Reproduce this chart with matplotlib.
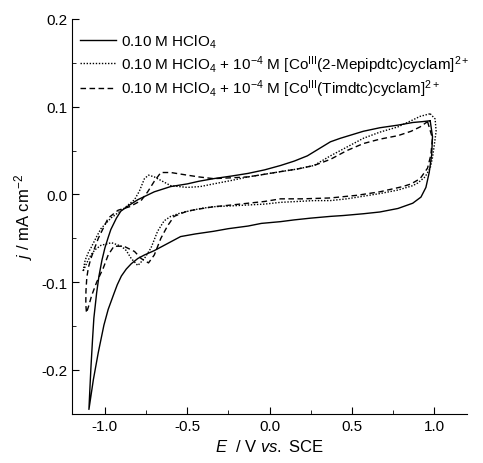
import numpy as np
import matplotlib
matplotlib.use("Agg")
import matplotlib.pyplot as plt
from matplotlib.ticker import MultipleLocator

plt.rcParams['font.family'] = ['Liberation Sans', 'DejaVu Sans']
plt.rcParams['mathtext.fontset'] = 'custom'
plt.rcParams['mathtext.rm'] = 'Liberation Sans'
plt.rcParams['mathtext.it'] = 'Liberation Sans:italic'
plt.rcParams['font.size'] = 11

# CV loops: positive vertex -> cathodic branch -> negative vertex -> anodic branch
E_blank = [0.976, 0.99, 0.985, 0.97, 0.95, 0.92, 0.87, 0.78, 0.67, 0.57, 0.45, 0.37,
           0.25, 0.15, 0.067, -0.05, -0.13, -0.25, -0.34, -0.45, -0.54, -0.62, -0.70,
           -0.76, -0.80, -0.84, -0.87, -0.90, -0.925, -0.945, -0.98, -1.006, -1.04,
           -1.07, -1.097,
           -1.092, -1.085, -1.075, -1.067, -1.05, -1.036, -1.018, -1.0, -0.98, -0.964,
           -0.93, -0.903, -0.85, -0.80, -0.70, -0.60, -0.50, -0.43, -0.34, -0.23, -0.13,
           -0.03, 0.067, 0.15, 0.23, 0.30, 0.37, 0.43, 0.50, 0.57, 0.67, 0.78, 0.87,
           0.93, 0.976]
j_blank = [0.084, 0.066, 0.045, 0.025, 0.008, -0.003, -0.010, -0.016, -0.020, -0.022,
           -0.024, -0.025, -0.027, -0.029, -0.031, -0.033, -0.036, -0.039, -0.042,
           -0.045, -0.048, -0.056, -0.064, -0.069, -0.073, -0.079, -0.085, -0.093,
           -0.103, -0.113, -0.131, -0.149, -0.180, -0.211, -0.245,
           -0.225, -0.198, -0.165, -0.141, -0.112, -0.093, -0.075, -0.061, -0.049,
           -0.040, -0.027, -0.019, -0.012, -0.006, 0.003, 0.009, 0.012, 0.015, 0.018,
           0.021, 0.024, 0.028, 0.033, 0.038, 0.044, 0.052, 0.060, 0.064, 0.068, 0.072,
           0.076, 0.079, 0.082, 0.083, 0.084]

E_mepip = [0.976, 1.006, 1.012, 1.0, 0.99, 0.976, 0.945, 0.90, 0.87, 0.78, 0.67, 0.57,
           0.47, 0.37, 0.27, 0.17, 0.067, -0.03, -0.13, -0.23, -0.34, -0.42, -0.54,
           -0.60, -0.64, -0.68, -0.72, -0.76, -0.80, -0.84, -0.87, -0.90, -0.96,
           -1.024, -1.06, -1.085, -1.11, -1.133,
           -1.12, -1.10, -1.085, -1.05, -1.024, -0.964, -0.885, -0.82, -0.79, -0.76,
           -0.735, -0.70, -0.66, -0.60, -0.50, -0.42, -0.34, -0.23, -0.13, -0.03, 0.067,
           0.17, 0.27, 0.37, 0.43, 0.50, 0.57, 0.67, 0.78, 0.86, 0.915, 0.976]
j_mepip = [0.092, 0.086, 0.072, 0.055, 0.042, 0.030, 0.020, 0.013, 0.010, 0.005, 0.001,
           -0.002, -0.005, -0.007, -0.007, -0.008, -0.009, -0.011, -0.012, -0.013,
           -0.014, -0.016, -0.021, -0.025, -0.030, -0.042, -0.061, -0.073, -0.081,
           -0.073, -0.064, -0.059, -0.055, -0.058, -0.063, -0.069, -0.078, -0.088,
           -0.075, -0.066, -0.061, -0.048, -0.039, -0.027, -0.016, -0.006, 0.004, 0.018,
           0.022, 0.020, 0.016, 0.010, 0.008, 0.009, 0.012, 0.016, 0.020, 0.023, 0.026,
           0.029, 0.033, 0.044, 0.050, 0.057, 0.064, 0.071, 0.077, 0.084, 0.089, 0.092]

E_timdtc = [0.96, 0.99, 0.98, 0.96, 0.915, 0.86, 0.81, 0.67, 0.53, 0.37, 0.2, 0.067,
            -0.03, -0.13, -0.23, -0.34, -0.44, -0.50, -0.58, -0.62, -0.66, -0.70,
            -0.735, -0.78, -0.82, -0.885, -0.945, -0.98, -1.01, -1.05, -1.08, -1.10,
            -1.112,
            -1.116, -1.115, -1.11, -1.10, -1.085, -1.06, -1.04, -0.98, -0.92, -0.85,
            -0.78, -0.74, -0.70, -0.66, -0.60, -0.50, -0.43, -0.34, -0.23, -0.13, -0.03,
            0.067, 0.17, 0.27, 0.37, 0.47, 0.57, 0.67, 0.78, 0.86, 0.915, 0.96]
j_timdtc = [0.083, 0.064, 0.045, 0.030, 0.018, 0.012, 0.009, 0.003, -0.001, -0.004,
            -0.005, -0.005, -0.008, -0.010, -0.012, -0.014, -0.017, -0.019, -0.025,
            -0.036, -0.050, -0.069, -0.078, -0.073, -0.065, -0.059, -0.059, -0.069,
            -0.084, -0.100, -0.115, -0.128, -0.135,
            -0.125, -0.110, -0.095, -0.083, -0.073, -0.060, -0.050, -0.027, -0.018,
            -0.014, -0.007, 0.003, 0.015, 0.025, 0.025, 0.022, 0.020, 0.018, 0.019,
            0.020, 0.023, 0.026, 0.029, 0.033, 0.040, 0.050, 0.058, 0.063, 0.067, 0.072,
            0.077, 0.083]

labels = [r"0.10 M HClO$_4$",
          r"0.10 M HClO$_4$ + 10$^{-4}$ M [Co$^{\rm III}$(2-Mepipdtc)cyclam]$^{2+}$",
          r"0.10 M HClO$_4$ + 10$^{-4}$ M [Co$^{\rm III}$(Timdtc)cyclam]$^{2+}$"]

fig = plt.figure(figsize=(4.83, 4.64), dpi=100)
ax = fig.add_axes([0.149, 0.106, 0.818, 0.851])

ax.plot(E_blank, j_blank, color='black', lw=1.0, label=labels[0])
ax.plot(E_mepip, j_mepip, color='black', lw=1.0, linestyle=(0, (1, 1.2)), label=labels[1])
ax.plot(E_timdtc, j_timdtc, color='black', lw=1.0, linestyle=(0, (4, 2.5)), label=labels[2])

ax.set_xlim(-1.2, 1.2)
ax.set_ylim(-0.25, 0.2)
ax.xaxis.set_major_locator(MultipleLocator(0.5))
ax.xaxis.set_minor_locator(MultipleLocator(0.25))
ax.yaxis.set_major_locator(MultipleLocator(0.1))
ax.yaxis.set_minor_locator(MultipleLocator(0.05))
ax.tick_params(which='both', direction='in', labelsize=11)
ax.tick_params(which='major', length=5)
ax.tick_params(which='minor', length=3)
ax.xaxis.set_major_formatter(plt.FuncFormatter(lambda v, p: f"{v:.1f}"))
ax.yaxis.set_major_formatter(plt.FuncFormatter(lambda v, p: f"{v:.1f}"))

for s in ['top', 'right']:
    ax.spines[s].set_visible(False)

ax.set_xlabel(r"$E$  / V $vs.$ SCE", fontsize=12)
ax.set_ylabel(r"$j$ / mA cm$^{-2}$", fontsize=12)

ax.legend(loc='upper left', frameon=False, fontsize=11.0, handlelength=2.4,
          handletextpad=0.3, borderaxespad=0.1, labelspacing=0.2,
          bbox_to_anchor=(0.0, 0.985))

fig.savefig("out.png", dpi=100)
